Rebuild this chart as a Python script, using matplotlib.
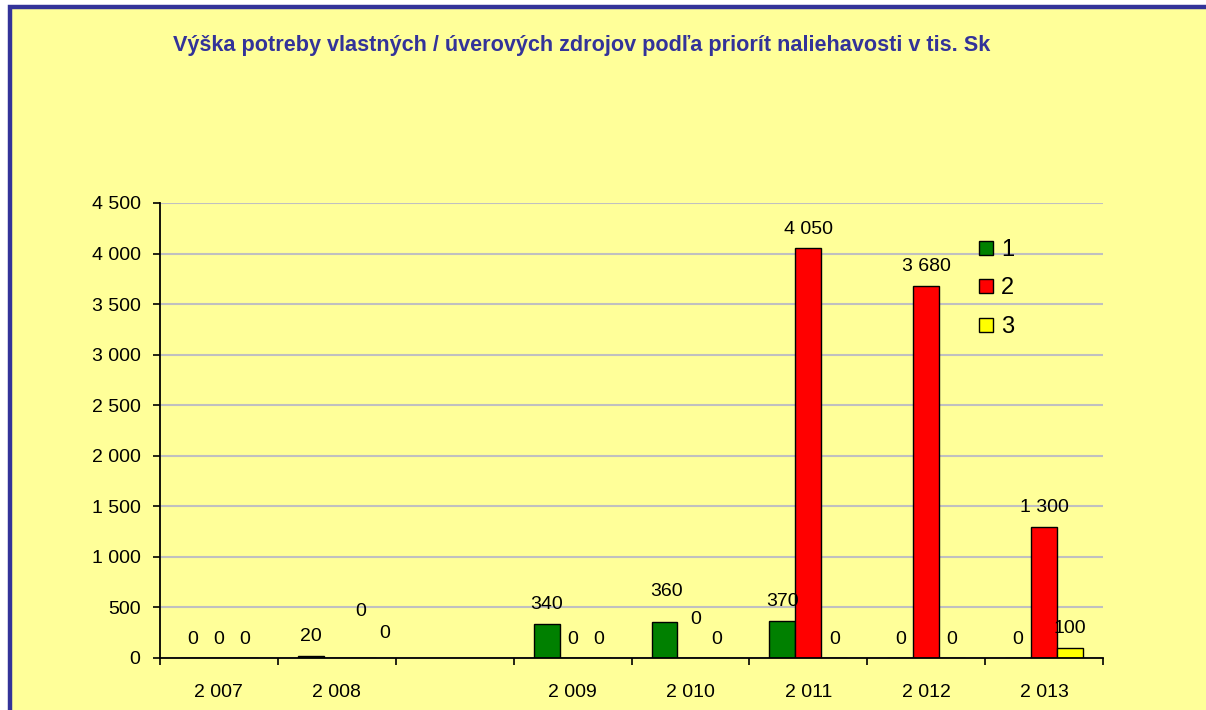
import matplotlib
matplotlib.use("Agg")
import matplotlib.pyplot as plt
import numpy as np
from matplotlib.patches import Rectangle
from matplotlib.lines import Line2D

# ---- data ----
categories = ["2 007", "2 008", "", "2 009", "2 010", "2 011", "2 012", "2 013"]
series_names = ["1", "2", "3"]
s1 = [0, 20, np.nan, 340, 360, 370, 0, 0]
s2 = [0, 0, np.nan, 0, 0, 4050, 3680, 1300]
s3 = [0, 0, np.nan, 0, 0, 0, 0, 100]
y_ticks = [0, 500, 1000, 1500, 2000, 2500, 3000, 3500, 4000, 4500]
y_tick_labels = ["0", "500", "1 000", "1 500", "2 000", "2 500", "3 000", "3 500", "4 000", "4 500"]
title = "Výška potreby vlastných / úverových zdrojov podľa priorít naliehavosti v tis. Sk"

# ---- style ----
colors = ["#008000", "#FF0000", "#FFFF00"]
bg = "#FFFF99"
frame_col = "#333399"
plt.rcParams['font.family'] = ['Liberation Sans', 'DejaVu Sans']

W, H = 1206, 710
fig = plt.figure(figsize=(W / 100, H / 100), dpi=100)
fig.patch.set_facecolor("white")
# yellow panel with blue frame (right/bottom edges beyond the image)
panel = Rectangle((10 / W, -0.05), 1.2, 1 - 7 / H + 0.05, transform=fig.transFigure,
                  facecolor=bg, edgecolor=frame_col, linewidth=3.2, zorder=-10)
fig.patches.append(panel)

ax = fig.add_axes([160 / W, 1 - 658 / H, (1103 - 160) / W, (658 - 203) / H])
ax.set_facecolor("none")
ax.set_zorder(2)

n = len(categories)
x = np.arange(n) + 0.5
bw = 0.22
series = [s1, s2, s3]
offsets = [-bw, 0, bw]

def fmt(v):
    return f"{int(v):,}".replace(",", " ")

# per-label extra displacement (px right, px up) for labels moved in original
extra = {(1, 1): (24, 28), (1, 2): (22, 5), (4, 1): (5, 19), (4, 0): (2, 11)}

for si, (vals, off, c) in enumerate(zip(series, offsets, colors)):
    vals = np.array(vals, dtype=float)
    ax.bar(x + off, vals, width=bw, color=c, edgecolor="black", linewidth=1.0,
           zorder=3, label=series_names[si])
    for ci, v in enumerate(vals):
        if np.isnan(v):
            continue
        dx, dy = extra.get((ci, si), (0, 0))
        ax.annotate(fmt(v), (x[ci] + off, v), xytext=((dx) * 0.72, (19 + dy) * 0.72),
                    textcoords="offset points", ha="center", va="center",
                    fontsize=14, color="black", zorder=5)

ax.set_xlim(0, n)
ax.set_ylim(0, 4500)
ax.set_yticks(y_ticks)
ax.set_yticklabels(y_tick_labels)
ax.set_xticks(np.arange(n + 1))
ax.set_xticklabels([])
ax.set_xticks(x, minor=True)
ax.set_xticklabels(categories, minor=True)
ax.tick_params(axis="x", which="major", length=5, width=1.2, direction="out", color="black")
ax.tick_params(axis="x", which="minor", length=0, pad=19, labelsize=14)
ax.tick_params(axis="y", length=5, width=1.2, direction="out", pad=9, labelsize=14)

ax.grid(axis="y", color="#C0C0C0", linewidth=1.5, zorder=0)
ax.set_axisbelow(True)
for sp in ["top", "right"]:
    ax.spines[sp].set_visible(False)
for sp in ["left", "bottom"]:
    ax.spines[sp].set_linewidth(1.3)
    ax.spines[sp].set_zorder(4)

handles = [Line2D([], [], marker="s", linestyle="none", markersize=9.5,
                  markerfacecolor=c, markeredgecolor="black", markeredgewidth=1.0)
           for c in colors]
leg = ax.legend(handles, series_names, loc="upper left",
                bbox_to_anchor=((967 - 160) / (1103 - 160), (658 - 227) / (658 - 203)),
                frameon=False, fontsize=17, handlelength=0.6, handletextpad=0.35,
                labelspacing=0.7, borderpad=0)

t = fig.text(582 / W, 1 - 46 / H, title, ha="center", va="center",
             fontsize=14, fontweight="bold", color=frame_col)
fig.canvas.draw()
wpx = t.get_window_extent().width
t.set_fontsize(14 * 817 / wpx)

fig.savefig("out.png", dpi=100, facecolor=fig.get_facecolor())
